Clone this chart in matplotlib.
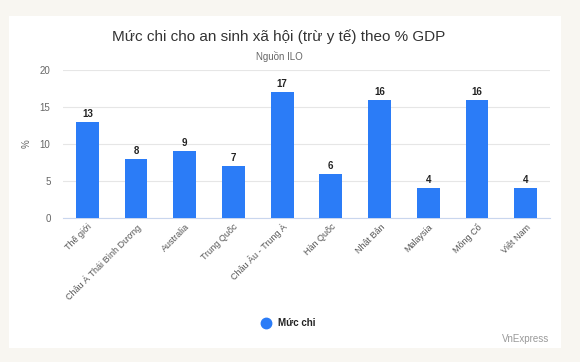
import matplotlib
matplotlib.use("Agg")
import matplotlib.pyplot as plt

categories = ["Thế giới", "Châu Á Thái Bình Dương", "Australia", "Trung Quốc",
              "Châu Âu - Trung Á", "Hàn Quốc", "Nhật Bản", "Malaysia", "Mông Cổ", "Việt Nam"]
values = [13, 8, 9, 7, 17, 6, 16, 4, 16, 4]
yticks = [0, 5, 10, 15, 20]

plt.rcParams['font.family'] = ['Liberation Sans', 'DejaVu Sans']

fig = plt.figure(figsize=(5.8, 3.62), dpi=100)
fig.patch.set_facecolor('#f8f6f1')

bg = fig.add_axes([9/580, 1-348/362, (561-9)/580, (348-16)/362], zorder=0)
bg.set_facecolor('white')
bg.set_xticks([]); bg.set_yticks([])
for s in bg.spines.values():
    s.set_visible(False)

ax = fig.add_axes([63/580, 1-218/362, (550-63)/580, (218-70)/362], zorder=1)
ax.set_facecolor('none')
bar_color = '#2b7cf7'
x = list(range(len(categories)))
ax.bar(x, values, width=0.47, color=bar_color, zorder=3)
for xi, v in zip(x, values):
    ax.text(xi, v + 0.4, str(v), ha='center', va='bottom', fontsize=7,
            fontweight='bold', color='#222222')

ax.set_ylim(0, 20)
ax.set_xlim(-0.5, len(categories) - 0.5)
ax.set_yticks(yticks)
ax.set_yticklabels([str(t) for t in yticks], fontsize=7, color='#666666')
ax.grid(axis='y', color='#e6e6e6', linewidth=0.8, zorder=0)
for s in ['top', 'right', 'left']:
    ax.spines[s].set_visible(False)
ax.spines['bottom'].set_color('#c9d6ee')
ax.tick_params(axis='y', length=0, pad=9)
ax.tick_params(axis='x', length=0, pad=3)
ax.set_xticks(x)
ax.set_xticklabels(categories, rotation=45, ha='right', rotation_mode='anchor',
                   fontsize=6.5, color='#555555')
ax.set_ylabel('%', fontsize=7, color='#666666', labelpad=6)

fig.text(279/580, 1-37/362, 'Mức chi cho an sinh xã hội (trừ y tế) theo % GDP',
         ha='center', va='center', fontsize=11, color='#333333', zorder=5)
fig.text(279/580, 1-56/362, 'Nguồn ILO', ha='center', va='center',
         fontsize=7, color='#666666', zorder=5)

bg.set_xlim(0, 1); bg.set_ylim(0, 1)
bg.plot([(266-9)/552], [(348-323)/332], marker='o', markersize=7.5,
        color=bar_color, linestyle='none')
fig.text(278/580, 1-323/362, 'Mức chi', ha='left', va='center', fontsize=7,
         fontweight='bold', color='#222222', zorder=5)
fig.text(549/580, 1-339/362, 'VnExpress', ha='right', va='center', fontsize=7,
         color='#999999', zorder=5)

fig.savefig('out.png', dpi=100, facecolor=fig.get_facecolor())
